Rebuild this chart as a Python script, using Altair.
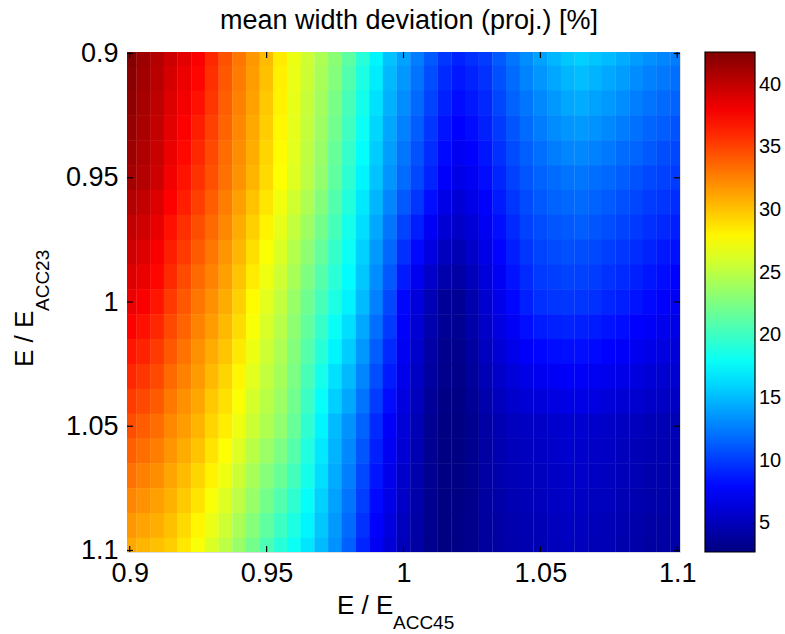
import altair as alt
import pandas as pd

# Grid of the map: E/E_ACC45 along x, E/E_ACC23 along y
x_grid = [0.900, 0.905, 0.910, 0.915, 0.920, 0.925, 0.930, 0.935, 0.940, 0.945,
          0.950, 0.955, 0.960, 0.965, 0.970, 0.975, 0.980, 0.985, 0.990, 0.995,
          1.000, 1.005, 1.010, 1.015, 1.020, 1.025, 1.030, 1.035, 1.040, 1.045,
          1.050, 1.055, 1.060, 1.065, 1.070, 1.075, 1.080, 1.085, 1.090, 1.095,
          1.100]
y_grid = [0.90, 0.91, 0.92, 0.93, 0.94, 0.95, 0.96, 0.97, 0.98, 0.99, 1.00,
          1.01, 1.02, 1.03, 1.04, 1.05, 1.06, 1.07, 1.08, 1.09, 1.10]

# Mean width deviation [%], one list per y value (left to right in x)
row_090 = [42.5, 41.5, 40.6, 39.6, 38.7, 37.8, 36.1, 34.4, 33.0, 31.7, 30.3, 28.4, 26.9, 25.7, 24.4, 23.1, 21.3, 19.2, 17.3, 15.3,
           14.0, 12.6, 11.1, 9.8, 9.0, 9.5, 10.0, 11.2, 12.3, 13.2, 14.0, 14.8, 15.5, 15.8, 15.4, 15.0, 14.4, 13.8, 13.3, 12.9, 12.5]
row_091 = [42.2, 41.3, 40.4, 39.3, 38.3, 37.4, 35.8, 34.2, 32.8, 31.5, 30.1, 28.2, 26.8, 25.6, 24.2, 22.8, 20.9, 18.8, 16.9, 14.9,
           13.6, 12.2, 10.7, 9.3, 8.6, 9.0, 9.6, 10.8, 11.9, 12.8, 13.5, 14.2, 14.8, 15.1, 14.7, 14.3, 13.8, 13.2, 12.7, 12.4, 12.0]
row_092 = [42.0, 41.1, 40.2, 39.0, 38.0, 37.0, 35.5, 33.9, 32.6, 31.3, 29.8, 28.1, 26.7, 25.4, 24.0, 22.4, 20.5, 18.4, 16.5, 14.6,
           13.2, 11.8, 10.3, 8.9, 8.1, 8.6, 9.2, 10.4, 11.5, 12.3, 13.0, 13.6, 14.2, 14.4, 14.0, 13.7, 13.2, 12.6, 12.2, 11.8, 11.5]
row_093 = [41.7, 41.0, 40.0, 38.7, 37.6, 36.5, 35.1, 33.7, 32.3, 31.0, 29.6, 27.9, 26.6, 25.3, 23.8, 22.1, 20.2, 18.1, 16.1, 14.2,
           12.7, 11.3, 9.8, 8.4, 7.7, 8.1, 8.9, 9.9, 11.0, 11.9, 12.5, 13.1, 13.5, 13.7, 13.4, 13.0, 12.5, 12.1, 11.6, 11.3, 10.9]
row_094 = [41.5, 40.8, 39.8, 38.4, 37.3, 36.1, 34.8, 33.4, 32.1, 30.8, 29.3, 27.8, 26.5, 25.1, 23.6, 21.7, 19.8, 17.7, 15.7, 13.9,
           12.3, 10.9, 9.4, 8.0, 7.2, 7.7, 8.5, 9.5, 10.6, 11.4, 12.0, 12.5, 12.9, 13.0, 12.7, 12.4, 11.9, 11.6, 11.1, 10.7, 10.4]
row_095 = [41.2, 40.6, 39.6, 38.1, 36.9, 35.7, 34.5, 33.2, 31.9, 30.6, 29.1, 27.6, 26.4, 25.0, 23.4, 21.4, 19.4, 17.3, 15.3, 13.5,
           11.9, 10.5, 9.0, 7.5, 6.8, 7.2, 8.1, 9.1, 10.2, 11.0, 11.5, 11.9, 12.2, 12.3, 12.0, 11.7, 11.3, 10.9, 10.5, 10.2, 9.9]
row_096 = [40.6, 40.0, 39.0, 37.6, 36.4, 35.2, 34.0, 32.7, 31.4, 30.0, 28.6, 27.1, 25.8, 24.4, 22.8, 20.9, 19.0, 16.8, 14.8, 12.9,
           11.1, 9.7, 8.2, 6.7, 6.1, 6.7, 7.6, 8.7, 9.7, 10.6, 11.1, 11.5, 11.7, 11.8, 11.5, 11.2, 10.8, 10.4, 10.0, 9.7, 9.4]
row_097 = [40.0, 39.5, 38.5, 37.0, 35.8, 34.6, 33.5, 32.3, 30.9, 29.5, 28.1, 26.6, 25.3, 23.8, 22.2, 20.4, 18.5, 16.4, 14.3, 12.3,
           10.3, 8.8, 7.3, 6.0, 5.5, 6.1, 7.2, 8.2, 9.3, 10.2, 10.7, 11.0, 11.2, 11.3, 11.0, 10.7, 10.3, 9.9, 9.5, 9.2, 8.8]
row_098 = [39.5, 38.9, 37.9, 36.5, 35.3, 34.1, 33.0, 31.8, 30.5, 28.9, 27.5, 26.2, 24.7, 23.2, 21.6, 19.8, 18.1, 15.9, 13.7, 11.7,
           9.5, 8.0, 6.5, 5.2, 4.8, 5.6, 6.7, 7.8, 8.8, 9.7, 10.3, 10.6, 10.8, 10.7, 10.5, 10.1, 9.8, 9.4, 9.0, 8.6, 8.3]
row_099 = [38.9, 38.4, 37.4, 36.0, 34.7, 33.5, 32.5, 31.4, 30.0, 28.4, 27.0, 25.7, 24.2, 22.6, 21.0, 19.3, 17.6, 15.5, 13.2, 11.1,
           8.7, 7.1, 5.6, 4.5, 4.2, 5.0, 6.3, 7.3, 8.4, 9.3, 9.9, 10.1, 10.3, 10.2, 10.0, 9.6, 9.3, 8.9, 8.5, 8.1, 7.7]
row_100 = [38.3, 37.8, 36.8, 35.4, 34.2, 33.0, 32.0, 30.9, 29.5, 27.8, 26.5, 25.2, 23.6, 22.0, 20.4, 18.8, 17.2, 15.0, 12.7, 10.5,
           7.9, 6.3, 4.8, 3.7, 3.5, 4.5, 5.8, 6.9, 7.9, 8.9, 9.5, 9.7, 9.8, 9.7, 9.5, 9.1, 8.8, 8.4, 8.0, 7.6, 7.2]
row_101 = [37.6, 37.0, 36.1, 34.8, 33.7, 32.5, 31.5, 30.4, 29.0, 27.4, 26.1, 24.8, 23.2, 21.5, 19.8, 18.0, 16.4, 14.3, 12.0, 9.9,
           7.6, 6.0, 4.5, 3.5, 3.4, 4.3, 5.5, 6.5, 7.3, 8.2, 8.7, 8.9, 9.0, 8.9, 8.7, 8.4, 8.1, 7.7, 7.4, 7.0, 6.7]
row_102 = [36.8, 36.3, 35.4, 34.2, 33.1, 32.0, 30.9, 29.9, 28.5, 26.9, 25.7, 24.4, 22.8, 21.0, 19.2, 17.3, 15.7, 13.6, 11.3, 9.3,
           7.2, 5.7, 4.2, 3.3, 3.2, 4.0, 5.2, 6.0, 6.8, 7.5, 7.9, 8.1, 8.2, 8.2, 8.0, 7.7, 7.4, 7.1, 6.8, 6.5, 6.2]
row_103 = [36.1, 35.5, 34.8, 33.5, 32.6, 31.6, 30.4, 29.3, 28.0, 26.5, 25.3, 24.1, 22.5, 20.5, 18.5, 16.5, 14.9, 12.9, 10.7, 8.7,
           6.9, 5.4, 4.0, 3.2, 3.1, 3.8, 4.8, 5.6, 6.2, 6.7, 7.1, 7.3, 7.5, 7.4, 7.2, 7.0, 6.7, 6.4, 6.1, 5.9, 5.8]
row_104 = [35.3, 34.8, 34.1, 32.9, 32.0, 31.1, 29.8, 28.8, 27.5, 26.0, 24.9, 23.7, 22.1, 20.0, 17.9, 15.8, 14.2, 12.2, 10.0, 8.1,
           6.5, 5.1, 3.7, 3.0, 2.9, 3.5, 4.5, 5.1, 5.7, 6.0, 6.3, 6.5, 6.7, 6.7, 6.5, 6.2, 6.0, 5.8, 5.6, 5.4, 5.3]
row_105 = [34.6, 34.0, 33.4, 32.3, 31.5, 30.6, 29.3, 28.3, 27.0, 25.6, 24.5, 23.3, 21.7, 19.5, 17.3, 15.0, 13.4, 11.5, 9.3, 7.5,
           6.2, 4.8, 3.4, 2.8, 2.8, 3.3, 4.2, 4.7, 5.1, 5.3, 5.5, 5.7, 5.9, 5.9, 5.7, 5.5, 5.3, 5.1, 4.9, 4.8, 4.8]
row_106 = [33.9, 33.3, 32.7, 31.8, 30.9, 30.0, 28.7, 27.6, 26.3, 24.9, 23.7, 22.5, 21.0, 18.9, 16.8, 14.7, 13.0, 11.0, 8.9, 7.2,
           6.0, 4.7, 3.4, 2.8, 2.8, 3.3, 4.1, 4.6, 5.0, 5.2, 5.4, 5.6, 5.8, 5.7, 5.5, 5.4, 5.1, 4.9, 4.7, 4.7, 4.7]
row_107 = [33.2, 32.6, 32.1, 31.2, 30.3, 29.3, 28.1, 27.0, 25.6, 24.2, 22.9, 21.7, 20.3, 18.4, 16.4, 14.4, 12.6, 10.5, 8.5, 6.9,
           5.7, 4.5, 3.4, 2.8, 2.9, 3.3, 4.1, 4.5, 4.8, 5.0, 5.2, 5.4, 5.6, 5.6, 5.4, 5.2, 5.0, 4.8, 4.5, 4.5, 4.6]
row_108 = [32.4, 31.9, 31.4, 30.7, 29.7, 28.7, 27.4, 26.3, 25.0, 23.6, 22.2, 20.8, 19.5, 17.8, 15.9, 14.0, 12.2, 10.1, 8.0, 6.7,
           5.5, 4.4, 3.3, 2.8, 2.9, 3.2, 4.0, 4.3, 4.7, 4.9, 5.1, 5.3, 5.5, 5.4, 5.2, 5.1, 4.8, 4.6, 4.4, 4.4, 4.5]
row_109 = [31.7, 31.2, 30.8, 30.1, 29.1, 28.0, 26.8, 25.7, 24.3, 22.9, 21.4, 20.0, 18.8, 17.3, 15.5, 13.7, 11.8, 9.6, 7.6, 6.4,
           5.2, 4.2, 3.3, 2.8, 3.0, 3.2, 3.9, 4.2, 4.5, 4.7, 4.9, 5.1, 5.3, 5.2, 5.0, 4.9, 4.6, 4.4, 4.2, 4.2, 4.4]
row_110 = [31.0, 30.5, 30.1, 29.6, 28.5, 27.4, 26.2, 25.0, 23.6, 22.2, 20.6, 19.2, 18.1, 16.7, 15.0, 13.4, 11.4, 9.1, 7.2, 6.1,
           5.0, 4.1, 3.3, 2.8, 3.0, 3.2, 3.9, 4.1, 4.4, 4.6, 4.8, 5.0, 5.2, 5.1, 4.9, 4.8, 4.5, 4.3, 4.0, 4.1, 4.3]

rows = [row_090, row_091, row_092, row_093, row_094, row_095, row_096,
        row_097, row_098, row_099, row_100, row_101, row_102, row_103,
        row_104, row_105, row_106, row_107, row_108, row_109, row_110]

tick_values = [0.9, 0.95, 1.0, 1.05, 1.1]
colorbar_ticks = [5, 10, 15, 20, 25, 30, 35, 40]

records = []
for ey, row in zip(y_grid, rows):
    for ex, dev in zip(x_grid, row):
        records.append({"ex": ex, "ey": ey, "dev": dev})
cells = pd.DataFrame(records)
ticks = pd.DataFrame({"t": tick_values})
cbar_ticks = pd.DataFrame({"v": colorbar_ticks})

# Jet colour map over the colour limits of the map
c_min, c_max = 2.7, 42.6
jet = ["#00007F", "#0000FF", "#0080FF", "#00FFFF", "#80FF80",
       "#FFFF00", "#FF8000", "#FF0000", "#800000"]
jet_domain = [c_min + k * (c_max - c_min) / 8 for k in range(9)]
color_scale = alt.Scale(domain=jet_domain, range=jet, interpolate="rgb")

FONT = "Liberation Sans"
W, H = 553, 500
CB_X, CB_W = W + 25, 50   # colour bar position and width, relative to the plot

x_scale = alt.Scale(domain=[0.899, 1.101], nice=False, zero=False)
y_scale = alt.Scale(domain=[0.8994, 1.1006], nice=False, zero=False, reverse=True)
cb_scale = alt.Scale(domain=[c_min, c_max], nice=False, zero=False)

x_axis = alt.Axis(values=tick_values, format="~g", title="", ticks=False,
                  grid=False, domain=False, labelFontSize=27, labelFont=FONT,
                  labelColor="black", labelPadding=8, labelFlush=False,
                  labelOverlap=False)
y_axis = alt.Axis(values=tick_values, format="~g", title="", ticks=False,
                  grid=False, domain=False, labelFontSize=27, labelFont=FONT,
                  labelColor="black", labelPadding=9, labelFlush=False,
                  labelOverlap=False)

# Half widths of a cell, slightly enlarged so neighbouring cells overlap
hx, hy = 0.00255, 0.0051

heat = alt.Chart(cells).transform_calculate(
    x0=f"datum.ex - {hx}", x1=f"datum.ex + {hx}",
    y0=f"datum.ey - {hy}", y1=f"datum.ey + {hy}",
).mark_rect(clip=True).encode(
    x=alt.X("x0:Q", scale=x_scale, axis=x_axis),
    x2="x1:Q",
    y=alt.Y("y0:Q", scale=y_scale, axis=y_axis),
    y2="y1:Q",
    color=alt.Color(
        "dev:Q", scale=color_scale, title=None,
        legend=alt.Legend(
            type="gradient", orient="none", legendX=CB_X, legendY=0,
            direction="vertical", gradientLength=H, gradientThickness=CB_W,
            padding=0, values=colorbar_ticks, labelFontSize=20,
            labelFont=FONT, labelColor="black", labelOffset=4,
            labelOverlap=False, gradientStrokeColor="black",
            gradientStrokeWidth=1.2,
        ),
    ),
)

# Inward tick marks on all four sides of the box
tick_len = 6
rule = dict(color="black", strokeWidth=1.2)
x_bottom = alt.Chart(ticks).mark_rule(**rule).encode(
    x=alt.X("t:Q", scale=x_scale, axis=x_axis), y=alt.value(H), y2=alt.value(H - tick_len))
x_top = alt.Chart(ticks).mark_rule(**rule).encode(
    x=alt.X("t:Q", scale=x_scale, axis=x_axis), y=alt.value(0), y2=alt.value(tick_len))
y_left = alt.Chart(ticks).mark_rule(**rule).encode(
    y=alt.Y("t:Q", scale=y_scale, axis=None), x=alt.value(0), x2=alt.value(tick_len))
y_right = alt.Chart(ticks).mark_rule(**rule).encode(
    y=alt.Y("t:Q", scale=y_scale, axis=None), x=alt.value(W), x2=alt.value(W - tick_len))

# Tick marks on both inner edges of the colour bar
cb_left = alt.Chart(cbar_ticks).mark_rule(**rule).encode(
    y=alt.Y("v:Q", scale=cb_scale, axis=None),
    x=alt.value(CB_X), x2=alt.value(CB_X + 5))
cb_right = alt.Chart(cbar_ticks).mark_rule(**rule).encode(
    y=alt.Y("v:Q", scale=cb_scale, axis=None),
    x=alt.value(CB_X + CB_W), x2=alt.value(CB_X + CB_W - 5))

one = pd.DataFrame({"k": [0]})

def label(text, x, y, size, angle=0, align="left"):
    return alt.Chart(one).mark_text(
        text=text, font=FONT, fontSize=size, color="black",
        align=align, baseline="alphabetic", angle=angle,
    ).encode(x=alt.value(x), y=alt.value(y))

title = label("mean width deviation (proj.) [%]", 282, -23, 27, align="center")

# Axis titles with subscripts
x_title = label("E / E", 210, 562, 26) + label("ACC45", 266, 577, 19)
y_title = (label("E / E", -94, 315, 26, angle=270)
           + label("ACC23", -78, 259, 19, angle=270))

chart = alt.layer(
    heat, x_bottom, x_top, y_left, y_right, cb_left, cb_right,
    title, x_title, y_title,
).resolve_scale(
    y="independent"
).properties(
    width=W, height=H,
    autosize=alt.AutoSizeParams(type="none"),
    padding={"left": 127, "top": 52, "right": 105, "bottom": 82},
).configure_view(
    stroke="black", strokeWidth=1.5
).configure(background="white")

chart.save("out.html", embed_options={"renderer": "svg", "actions": False})
